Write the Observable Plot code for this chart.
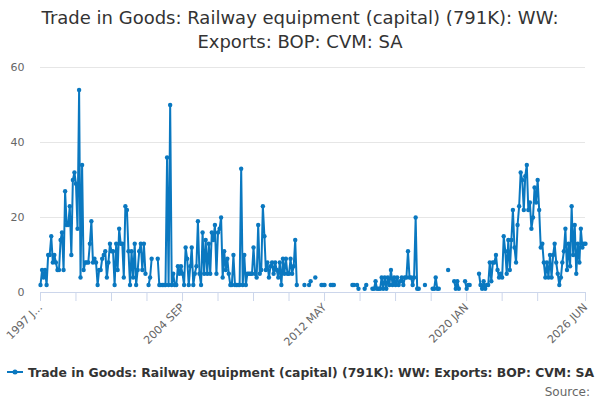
<!DOCTYPE html>
<html><head><meta charset="utf-8">
<script src="https://cdn.jsdelivr.net/npm/d3@7"></script>
<script src="https://cdn.jsdelivr.net/npm/@observablehq/plot@0.6"></script>
<style>
body{margin:0;background:#fff;font-family:"DejaVu Sans",sans-serif;}
#wrap{width:600px;height:400px;position:relative;overflow:hidden;}
#title{height:58px;box-sizing:border-box;padding-top:6px;text-align:center;font-size:18px;line-height:24px;color:#333;}
#chart{height:294px;}
#legend{position:absolute;left:0;top:362px;width:600px;height:20px;display:flex;justify-content:center;align-items:center;font-size:12.4px;font-weight:bold;color:#333;white-space:nowrap;}
#legend svg{margin-right:4px;}
#source{position:absolute;right:10px;top:385px;font-size:12px;color:#666;}
</style></head><body>
<div id="wrap">
<div id="title">Trade in Goods: Railway equipment (capital) (791K): WW:<br>Exports: BOP: CVM: SA</div>
<div id="chart"></div>
<div id="legend"></div>
<div id="source">Source:</div>
</div>
<script>
const seriesName = "Trade in Goods: Railway equipment (capital) (791K): WW: Exports: BOP: CVM: SA";
const startYear = 1997;
// monthly values, Jan 1997 .. Jun 2026 (null = missing)
const values = [
  2,6,4,6,2,10,10,15,8,10,8,6,            // 1997
  6,14,16,6,27,18,18,23,10,30,32,29,      // 1998
  17,54,4,34,6,8,8,8,13,19,8,9,           // 1999
  8,2,6,6,9,10,11,4,8,13,11,11,           // 2000
  2,13,6,17,13,13,4,23,22,11,2,11,        // 2001
  4,13,2,6,11,13,6,13,5,null,2,4,         // 2002
  9,null,null,null,9,2,2,2,2,2,36,2,      // 2003
  50,2,5,2,2,7,5,7,5,2,12,9,              // 2004
  2,7,12,2,5,7,19,5,2,16,5,14,            // 2005
  5,13,5,16,14,18,5,16,17,20,4,11,        // 2006
  6,9,5,2,2,10,2,2,2,2,33,2,              // 2007
  10,2,5,5,5,5,12,5,4,18,5,6,             // 2008
  23,15,6,8,4,7,8,5,8,6,4,8,              // 2009
  2,9,5,9,5,5,9,5,7,14,2,null,            // 2010
  null,null,null,2,null,null,2,3,null,null,4,null, // 2011
  null,null,2,2,2,null,null,null,2,2,2,null,       // 2012
  null,null,null,null,null,null,null,null,null,null,2,2, // 2013
  null,2,1,null,null,null,1,2,null,null,null,1,    // 2014
  1,3,1,1,1,4,1,4,1,4,2,6,                // 2015
  2,4,2,4,2,3,4,2,4,4,11,4,               // 2016
  4,2,4,20,1,1,null,null,null,2,null,null, // 2017
  null,null,1,1,4,1,1,null,null,null,null,null, // 2018
  6,null,null,null,3,1,3,1,null,null,null,3,    // 2019
  1,2,2,null,null,null,null,null,5,2,1,3,       // 2020
  1,2,2,8,3,8,8,10,6,4,5,4,               // 2021
  15,11,5,14,6,14,22,12,8,18,23,32,       // 2022
  30,22,31,34,22,24,17,20,28,24,30,22,    // 2023
  12,13,8,4,8,4,10,4,10,13,8,5,           // 2024
  2,4,8,11,17,6,13,7,23,10,18,5,          // 2025
  13,8,17,12,13,13                        // 2026
];
const yTicks = [0,20,40,60];
const xTickMonths = [0,23,46,69,92,115,138,161,184,207,230,253,276,299,322,353];
const xLabelMonths = [0,92,184,276,353];
const xLabelTexts = ["1997 J...","2004 SEP","2012 MAY","2020 JAN","2026 JUN"];
const lineColor = "#0a78c0";

const monthDate = i => new Date(Date.UTC(startYear, i, 1));
const data = values.map((v,i)=>({date: monthDate(i), value: v}));
const tickDates = xTickMonths.map(monthDate);
const labelMap = new Map(xLabelMonths.map((m,i)=>[+monthDate(m), xLabelTexts[i]]));

const chart = Plot.plot({
  width: 600, height: 294,
  marginTop: 9, marginLeft: 40, marginRight: 15, marginBottom: 60,
  style: {fontFamily: "DejaVu Sans", fontSize: "11px", color: "#666", background: "transparent"},
  x: {type: "utc", domain: [monthDate(0), monthDate(values.length - 1)]},
  y: {domain: [0, 60]},
  marks: [
    Plot.gridY(yTicks, {stroke: "#e6e6e6", strokeOpacity: 1}),
    Plot.ruleY([0], {stroke: "#ccd6eb"}),
    Plot.axisY(yTicks, {tickSize: 0, tickPadding: 16, fill: "#666", label: null}),
    Plot.axisX(tickDates, {tickSize: 9, tickPadding: 4, stroke: "#ccd6eb", strokeOpacity: 1, tickRotate: -45, fill: "#666", label: null,
      tickFormat: d => labelMap.get(+d) ?? ""}),
    Plot.line(data, {x: "date", y: "value", stroke: lineColor, strokeWidth: 2}),
    Plot.dot(data.filter(d => d.value != null), {x: "date", y: "value", r: 2.2, fill: lineColor})
  ]
});
document.getElementById("chart").appendChild(chart);

const legend = document.getElementById("legend");
legend.innerHTML = `<svg width="18" height="10"><line x1="1" y1="5" x2="17" y2="5" stroke="${lineColor}" stroke-width="2"/><circle cx="9" cy="5" r="2.5" fill="${lineColor}"/></svg><span>${seriesName}</span>`;
</script>
</body></html>
